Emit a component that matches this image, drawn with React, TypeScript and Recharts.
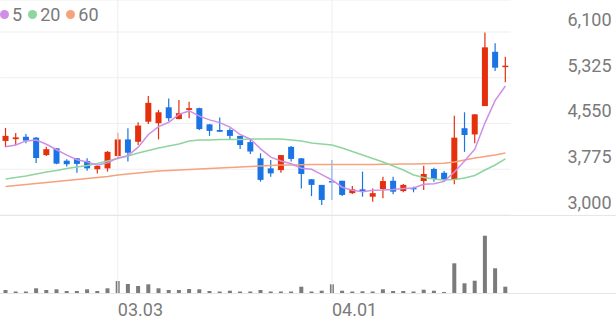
import { ComposedChart, BarChart, Bar, Line, XAxis, YAxis, CartesianGrid, ReferenceLine } from "recharts";

// trading days shown on the chart (MM.DD)
const dates = [
  "02.10", "02.11", "02.12", "02.13", "02.19", "02.20", "02.23", "02.24", "02.25", "02.26",
  "02.27", "03.03", "03.04", "03.05", "03.06", "03.09", "03.10", "03.11", "03.12", "03.13",
  "03.16", "03.17", "03.18", "03.19", "03.20", "03.23", "03.24", "03.25", "03.26", "03.27",
  "03.30", "03.31", "04.01", "04.02", "04.03", "04.06", "04.07", "04.08", "04.09", "04.10",
  "04.13", "04.14", "04.15", "04.16", "04.17", "04.20", "04.21", "04.22", "04.23", "04.24",
];

const opens = [
  4255, 4285, 4325, 4310, 4015, 4130, 3920, 3960, 3915, 3775,
  3790, 4000, 4280, 4240, 4580, 4555, 4825, 4625, 4780, 4810,
  4535, 4440, 4440, 4340, 4235, 3960, 3790, 3760, 4155, 3960,
  3605, 3510, 3575, 3580, 3370, 3435, 3310, 3440, 3580, 3405,
  3460, 3575, 3780, 3715, 3595, 4470, 4365, 4845, 5765, 5505,
];
const highs = [
  4475, 4390, 4370, 4320, 4155, 4135, 3945, 3965, 3960, 3845,
  4085, 4395, 4470, 4570, 5015, 4780, 4975, 4950, 4920, 4815,
  4540, 4650, 4470, 4340, 4285, 4045, 3930, 4015, 4170, 3965,
  3610, 3510, 3930, 3580, 3490, 3735, 3450, 3650, 3650, 3525,
  3480, 3835, 3800, 3745, 4680, 4740, 4705, 6090, 5910, 5680,
];
const lows = [
  4150, 4185, 4215, 3880, 4000, 3860, 3820, 3715, 3750, 3705,
  3735, 3960, 3905, 4185, 4540, 4280, 4590, 4620, 4640, 4440,
  4340, 4410, 4280, 4120, 4035, 3565, 3650, 3715, 3905, 3450,
  3320, 3170, 3255, 3320, 3355, 3310, 3225, 3285, 3350, 3385,
  3385, 3425, 3565, 3565, 3520, 4070, 4215, 4845, 5440, 5250,
];
const closes = [
  4340, 4315, 4260, 3965, 4115, 3870, 3860, 3865, 3790, 3830,
  4070, 4280, 4055, 4515, 4900, 4740, 4640, 4725, 4810, 4455,
  4425, 4410, 4340, 4185, 4075, 3595, 3705, 4015, 3950, 3695,
  3510, 3255, 3555, 3340, 3435, 3395, 3370, 3575, 3395, 3510,
  3435, 3695, 3610, 3595, 4310, 4355, 4705, 5840, 5495, 5530,
];

const ma5 = [
  4155, 4185, 4255, 4270, 4199, 4105, 4014, 3935, 3900, 3843,
  3883, 3967, 4005, 4150, 4364, 4498, 4570, 4704, 4763, 4674,
  4611, 4565, 4488, 4363, 4287, 4121, 3980, 3915, 3868, 3792,
  3775, 3685, 3593, 3471, 3419, 3396, 3419, 3423, 3434, 3449,
  3457, 3522, 3529, 3569, 3729, 3913, 4115, 4561, 4941, 5185,
];
const ma20 = [
  3610, 3635, 3661, 3695, 3728, 3754, 3788, 3813, 3839, 3872,
  3915, 3957, 3999, 4050, 4093, 4135, 4169, 4203, 4254, 4271,
  4271, 4279, 4279, 4279, 4287, 4287, 4287, 4287, 4271, 4254,
  4220, 4203, 4186, 4135, 4076, 4016, 3957, 3898, 3830, 3762,
  3678, 3635, 3610, 3593, 3601, 3627, 3669, 3762, 3847, 3949,
];
const ma60 = [
  3483, 3500, 3517, 3534, 3551, 3567, 3584, 3601, 3618, 3635,
  3652, 3678, 3695, 3711, 3728, 3745, 3754, 3762, 3771, 3779,
  3788, 3796, 3805, 3813, 3822, 3830, 3839, 3847, 3847, 3850,
  3854, 3855, 3855, 3855, 3855, 3855, 3855, 3859, 3861, 3864,
  3864, 3867, 3872, 3877, 3898, 3932, 3966, 3991, 4016, 4050,
];

const volumes = [
  30000, 15000, 15000, 47000, 30000, 37000, 20000, 20000, 37000, 20000,
  47000, 120000, 90000, 70000, 87000, 47000, 30000, 30000, 40000, 37000,
  20000, 15000, 23000, 15000, 15000, 30000, 15000, 15000, 15000, 63000,
  15000, 23000, 87000, 23000, 15000, 17000, 15000, 37000, 20000, 20000,
  15000, 33000, 23000, 10000, 297000, 97000, 123000, 573000, 247000, 63000,
];

const priceTicks = [3000, 3775, 4550, 5325, 6100];
const dateTicks = ["03.03", "04.01"];
const maNames = ["5", "20", "60"];

const RED = "#e5300d";
const BLUE = "#1b74e4";
const MA_COLORS = ["#d08fe6", "#8ed59f", "#f6a27c"];
const TEXT = "#7a7a7a";
const FONT = "Roboto, sans-serif";
const FONT_SIZE = 18;

const data = dates.map((date, i) => ({
  date,
  open: opens[i],
  high: highs[i],
  low: lows[i],
  close: closes[i],
  ma5: ma5[i],
  ma20: ma20[i],
  ma60: ma60[i],
  volume: volumes[i],
}));

function Candle(props: any) {
  const { x, y, width, height, payload } = props;
  const { open, close, high, low } = payload;
  const top = Math.min(y, y + height);
  const span = Math.abs(height);
  const k = span / (high - low || 1);
  const py = (p: number) => top + (high - p) * k;
  const color = close >= open ? RED : BLUE;
  const cx = x + width / 2;
  const bodyTop = py(Math.max(open, close));
  const bodyH = Math.max(1.5, py(Math.min(open, close)) - bodyTop);
  return (
    <g>
      <line x1={cx} x2={cx} y1={top} y2={top + span} stroke={color} strokeWidth={1.2} />
      <rect x={cx - 3} y={bodyTop} width={6} height={bodyH} fill={color} />
    </g>
  );
}

function PriceTick(props: any) {
  const { x, y, payload } = props;
  return (
    <text x={x + 93} y={y - 6} textAnchor="end" fill={TEXT} fontSize={FONT_SIZE} fontFamily={FONT}>
      {payload.value.toLocaleString("en-US")}
    </text>
  );
}

function DateTick(props: any) {
  const { x, y, payload } = props;
  if (!dateTicks.includes(payload.value)) return null;
  return (
    <text x={x} y={y + 15} textAnchor="start" fill={TEXT} fontSize={FONT_SIZE} fontFamily={FONT}>
      {payload.value}
    </text>
  );
}

export default function App() {
  return (
    <div style={{ position: "absolute", left: 0, top: 0, width: 616, height: 321, background: "#fff", overflow: "hidden" }}>
      <div style={{ position: "absolute", left: 0, top: 0 }}>
        <ComposedChart width={616} height={216} data={data} margin={{ top: 0, right: 0, bottom: 1, left: 0.5 }}>
          <CartesianGrid vertical={false} stroke="#efefef" />
          <XAxis dataKey="date" hide />
          <YAxis
            orientation="right"
            width={105.5}
            domain={[3000, 6642]}
            ticks={priceTicks}
            interval={0}
            axisLine={false}
            tickLine={false}
            tick={<PriceTick />}
            allowDataOverflow
          />
          {dateTicks.map((d) => (
            <ReferenceLine key={d} x={d} stroke="#eeeeee" />
          ))}
          <Line dataKey="ma60" stroke={MA_COLORS[2]} strokeWidth={1.5} dot={false} isAnimationActive={false} />
          <Line dataKey="ma20" stroke={MA_COLORS[1]} strokeWidth={1.5} dot={false} isAnimationActive={false} />
          <Line dataKey="ma5" stroke={MA_COLORS[0]} strokeWidth={1.5} dot={false} isAnimationActive={false} />
          <Bar dataKey={(d: any) => [d.low, d.high]} shape={Candle} isAnimationActive={false} />
        </ComposedChart>
      </div>
      <div style={{ position: "absolute", left: 0, top: 215 }}>
        <BarChart width={616} height={106} data={data} margin={{ top: 0, right: 0, bottom: 0, left: 0.5 }}>
          <XAxis dataKey="date" interval={0} height={28} axisLine={false} tickLine={false} tick={<DateTick />} />
          <YAxis orientation="right" width={105.5} domain={[0, 780000]} tick={false} axisLine={false} tickLine={false} />
          {dateTicks.map((d) => (
            <ReferenceLine key={d} x={d} stroke="#eeeeee" />
          ))}
          <Bar dataKey="volume" fill="#7b7b7b" barSize={4} isAnimationActive={false} />
        </BarChart>
      </div>
      <div style={{ position: "absolute", left: 0, top: 215, width: 616, height: 1, background: "#e6e6e6" }} />
      <div style={{ position: "absolute", left: 0, top: 293, width: 616, height: 1, background: "#e6e6e6" }} />
      <div style={{ position: "absolute", left: 0, top: 4, display: "flex", alignItems: "center", fontFamily: FONT, fontSize: FONT_SIZE, color: TEXT }}>
        {maNames.map((n, i) => (
          <div key={n} style={{ display: "flex", alignItems: "center", marginRight: 6 }}>
            <span style={{ width: 9, height: 9, borderRadius: "50%", background: MA_COLORS[i], marginRight: 3 }} />
            <span>{n}</span>
          </div>
        ))}
      </div>
    </div>
  );
}
